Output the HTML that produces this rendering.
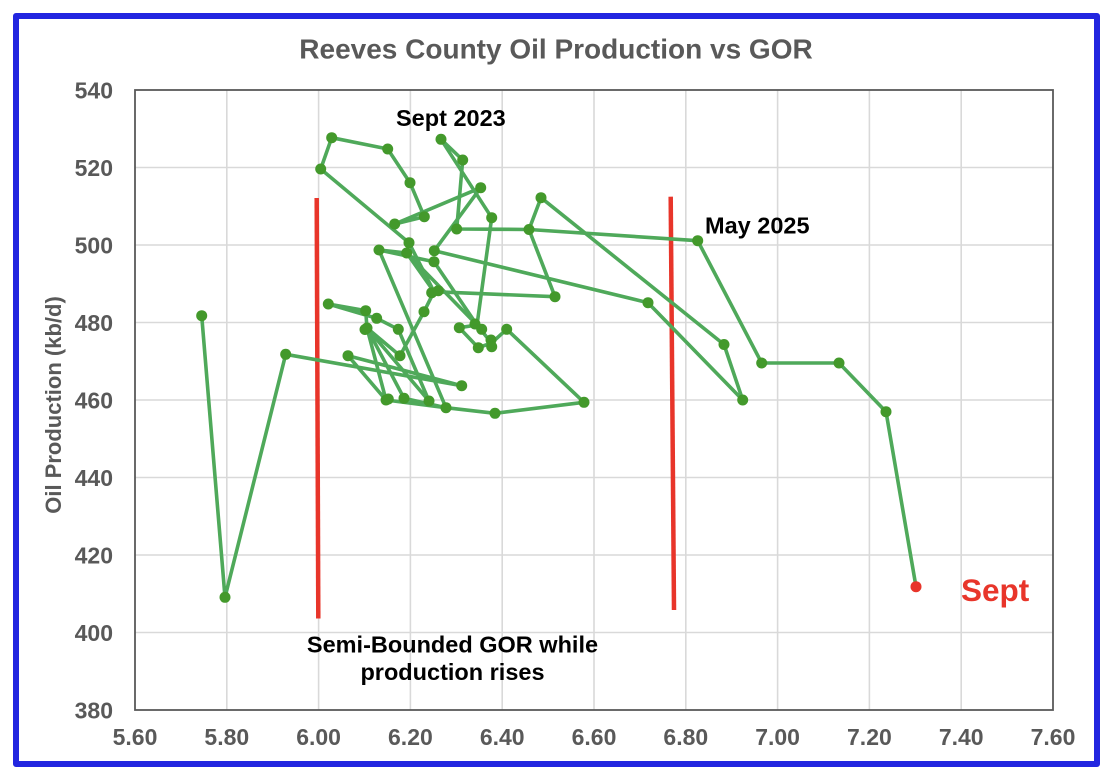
<!DOCTYPE html>
<html><head><meta charset="utf-8"><style>
html,body{margin:0;padding:0;background:#fff;}
body{width:1110px;height:782px;position:relative;overflow:hidden;}
.frame{position:absolute;left:13px;top:13px;width:1087px;height:754px;box-sizing:border-box;border:6px solid #2226e0;border-radius:3px;}
svg{position:absolute;left:0;top:0;}
text{font-family:"Liberation Sans",Arial,sans-serif;font-weight:bold;}
</style></head><body>
<div class="frame"></div>
<svg width="1110" height="782" viewBox="0 0 1110 782">
<g stroke="#d9d9d9" stroke-width="1.6">
<line x1="226.8" y1="90" x2="226.8" y2="710"/><line x1="318.6" y1="90" x2="318.6" y2="710"/><line x1="410.4" y1="90" x2="410.4" y2="710"/><line x1="502.2" y1="90" x2="502.2" y2="710"/><line x1="594" y1="90" x2="594" y2="710"/><line x1="685.8" y1="90" x2="685.8" y2="710"/><line x1="777.6" y1="90" x2="777.6" y2="710"/><line x1="869.4" y1="90" x2="869.4" y2="710"/><line x1="961.2" y1="90" x2="961.2" y2="710"/>
<line x1="135" y1="167.5" x2="1053" y2="167.5"/><line x1="135" y1="245" x2="1053" y2="245"/><line x1="135" y1="322.5" x2="1053" y2="322.5"/><line x1="135" y1="400" x2="1053" y2="400"/><line x1="135" y1="477.5" x2="1053" y2="477.5"/><line x1="135" y1="555" x2="1053" y2="555"/><line x1="135" y1="632.5" x2="1053" y2="632.5"/>
</g>
<rect x="135" y="90" width="918" height="620" fill="none" stroke="#595959" stroke-width="1.8"/>
<g fill="#595959" font-size="23" text-anchor="end">
<text x="113" y="98.3">540</text><text x="113" y="175.8">520</text><text x="113" y="253.3">500</text><text x="113" y="330.8">480</text><text x="113" y="408.3">460</text><text x="113" y="485.8">440</text><text x="113" y="563.3">420</text><text x="113" y="640.8">400</text><text x="113" y="718.3">380</text>
</g>
<g fill="#595959" font-size="23" text-anchor="middle">
<text x="135" y="745">5.60</text><text x="226.8" y="745">5.80</text><text x="318.6" y="745">6.00</text><text x="410.4" y="745">6.20</text><text x="502.2" y="745">6.40</text><text x="594" y="745">6.60</text><text x="685.8" y="745">6.80</text><text x="777.6" y="745">7.00</text><text x="869.4" y="745">7.20</text><text x="961.2" y="745">7.40</text><text x="1053" y="745">7.60</text>
</g>
<text x="556" y="58.5" fill="#595959" font-size="28" text-anchor="middle">Reeves County Oil Production vs GOR</text>
<text transform="translate(61,405) rotate(-90)" fill="#595959" font-size="22" text-anchor="middle">Oil Production (kb/d)</text>
<g stroke="#e8352a" stroke-width="4.5">
<line x1="316.7" y1="198" x2="318.3" y2="618.5"/>
<line x1="670.7" y1="196.7" x2="674" y2="610"/>
</g>
<g stroke="#4fa95a" stroke-width="3.6" fill="none" stroke-linejoin="round" stroke-linecap="round">
<path d="M201.7,315.7L225,597.3L285.7,354.3L461.7,385.7L348,355.7L386,400L367,328L404,398.3L446,407.7L495,413.3L584,402.3L506.7,329.3L491.5,343L478.3,347.7L459.3,327.7L477,325L491.5,343"/>
<path d="M367,328L429,401L398.3,329.3L376.7,318.3L328.3,304L365.7,310.7L367,328L400,355.7L424,311.7L434,291.7L555,296.7L529,229.5L541,197.7L724,344.5L742.7,400L648,302.7L434.3,250.7L480.7,187.7L394.7,224L424.3,216.7L410,182.7L387.7,149L331.7,137.7L320.7,169L409,242.7L434,291.7L406.7,253L379,250L446,407.7"/>
<path d="M386,400L446,407.7"/>
<path d="M379,250L434,261.7L477,325L491.7,217.7L441,139.3L462.7,160L456.7,229L529,229.5L697.7,240.7L761.7,363L839,363L886,411.7L916,586.7"/>
<path d="M406.7,253L477,325"/>
</g>
<g fill="#43992b">
<circle cx="201.7" cy="315.7" r="5.5"/><circle cx="225" cy="597.3" r="5.5"/><circle cx="285.7" cy="354.3" r="5.5"/><circle cx="461.7" cy="385.7" r="5.5"/><circle cx="328.3" cy="304" r="5.5"/><circle cx="365.7" cy="310.7" r="5.5"/><circle cx="376.7" cy="318.3" r="5.5"/><circle cx="367" cy="328" r="5.5"/><circle cx="365" cy="329.5" r="5.5"/><circle cx="398.3" cy="329.3" r="5.5"/><circle cx="400" cy="355.7" r="5.5"/><circle cx="348" cy="355.7" r="5.5"/><circle cx="386" cy="400" r="5.5"/><circle cx="388.3" cy="399" r="5.5"/><circle cx="404" cy="398.3" r="5.5"/><circle cx="429" cy="401" r="5.5"/><circle cx="446" cy="407.7" r="5.5"/><circle cx="495" cy="413.3" r="5.5"/><circle cx="584" cy="402.3" r="5.5"/><circle cx="506.7" cy="329.3" r="5.5"/><circle cx="491" cy="340" r="5.5"/><circle cx="491.7" cy="346.7" r="5.5"/><circle cx="478.3" cy="347.7" r="5.5"/><circle cx="459.3" cy="327.7" r="5.5"/><circle cx="475" cy="324" r="5.5"/><circle cx="481.7" cy="329.3" r="5.5"/><circle cx="424" cy="311.7" r="5.5"/><circle cx="431.7" cy="292.7" r="5.5"/><circle cx="438.3" cy="290.7" r="5.5"/><circle cx="555" cy="296.7" r="5.5"/><circle cx="529" cy="229.5" r="5.5"/><circle cx="541" cy="197.7" r="5.5"/><circle cx="724" cy="344.5" r="5.5"/><circle cx="742.7" cy="400" r="5.5"/><circle cx="648" cy="302.7" r="5.5"/><circle cx="434.3" cy="250.7" r="5.5"/><circle cx="434" cy="261.7" r="5.5"/><circle cx="409" cy="242.7" r="5.5"/><circle cx="406.7" cy="253" r="5.5"/><circle cx="379" cy="250" r="5.5"/><circle cx="320.7" cy="169" r="5.5"/><circle cx="331.7" cy="137.7" r="5.5"/><circle cx="387.7" cy="149" r="5.5"/><circle cx="410" cy="182.7" r="5.5"/><circle cx="424.3" cy="216.7" r="5.5"/><circle cx="394.7" cy="224" r="5.5"/><circle cx="480.7" cy="187.7" r="5.5"/><circle cx="441" cy="139.3" r="5.5"/><circle cx="462.7" cy="160" r="5.5"/><circle cx="491.7" cy="217.7" r="5.5"/><circle cx="456.7" cy="229" r="5.5"/><circle cx="697.7" cy="240.7" r="5.5"/><circle cx="761.7" cy="363" r="5.5"/><circle cx="839" cy="363" r="5.5"/><circle cx="886" cy="411.7" r="5.5"/>
</g>
<circle cx="916" cy="586.7" r="5.5" fill="#e8352a"/>
<g fill="#000" font-size="23.5">
<text x="396" y="126">Sept 2023</text>
<text x="705" y="233.3">May 2025</text>
<text x="452.5" y="652.7" text-anchor="middle">Semi-Bounded GOR while</text>
<text x="452.5" y="680" text-anchor="middle">production rises</text>
</g>
<text x="961" y="601" fill="#e8352a" font-size="31.5">Sept</text>
</svg>
</body></html>
